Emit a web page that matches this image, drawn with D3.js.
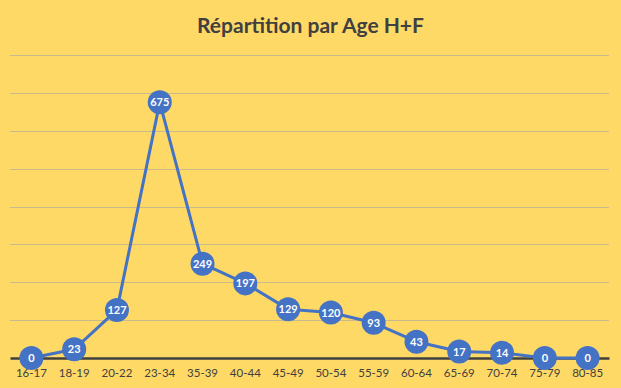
<!DOCTYPE html>
<html>
<head>
<meta charset="utf-8">
<script src="https://cdn.jsdelivr.net/npm/d3@7"></script>
<style>
  html, body { margin: 0; padding: 0; background: #FFD966; }
  svg { display: block; }
</style>
</head>
<body>
<div id="chart"></div>
<script>
'use strict';

const title = 'Répartition par Age H+F';
const ageGroups = ['16-17', '18-19', '20-22', '23-34', '35-39', '40-44', '45-49',
  '50-54', '55-59', '60-64', '65-69', '70-74', '75-79', '80-85'];
const counts = [0, 23, 127, 675, 249, 197, 129, 120, 93, 43, 17, 14, 0, 0];
const yTicks = [0, 100, 200, 300, 400, 500, 600, 700, 800];

const width = 621;
const height = 388;
const margin = { top: 55, right: 12, bottom: 30, left: 10 };

const svg = d3.select('#chart')
  .append('svg')
  .attr('width', width)
  .attr('height', height)
  .style('background', '#FFD966');

const x = d3.scaleBand()
  .domain(ageGroups)
  .range([margin.left, width - margin.right]);

const y = d3.scaleLinear()
  .domain([0, 800])
  .range([height - margin.bottom, margin.top]);

// Title
svg.append('text')
  .attr('x', width / 2)
  .attr('y', 33)
  .attr('text-anchor', 'middle')
  .style('font-family', 'Lato, "Open Sans", sans-serif')
  .style('font-weight', 'bold')
  .style('font-size', '21px')
  .style('fill', '#404040')
  .text(title);

// Horizontal gridlines
svg.append('g')
  .selectAll('line')
  .data(yTicks.slice(1))
  .join('line')
  .attr('x1', margin.left)
  .attr('x2', width - margin.right)
  .attr('y1', (d) => Math.round(y(d)) + 0.5)
  .attr('y2', (d) => Math.round(y(d)) + 0.5)
  .attr('stroke', '#C8B98F')
  .attr('stroke-width', 1);

// X axis
const xAxis = d3.axisBottom(x).tickSize(0).tickPadding(11);
const gx = svg.append('g')
  .attr('transform', `translate(0, ${y(0)})`)
  .call(xAxis);
gx.select('.domain')
  .attr('stroke', '#404040')
  .attr('stroke-width', 2.5);
gx.selectAll('text')
  .style('font-family', 'Lato, "Open Sans", sans-serif')
  .style('font-size', '11.5px')
  .style('fill', '#404040');

const cx = (d, i) => x(ageGroups[i]) + x.bandwidth() / 2;

// Line
const line = d3.line()
  .x((d, i) => cx(d, i))
  .y((d) => y(d));

svg.append('path')
  .datum(counts)
  .attr('fill', 'none')
  .attr('stroke', '#4472C4')
  .attr('stroke-width', 3)
  .attr('stroke-linejoin', 'round')
  .attr('d', line);

// Markers with labels
const points = svg.append('g')
  .selectAll('g')
  .data(counts)
  .join('g')
  .attr('transform', (d, i) => `translate(${cx(d, i)}, ${y(d)})`);

points.append('circle')
  .attr('r', 12)
  .attr('fill', '#4472C4');

points.append('text')
  .attr('text-anchor', 'middle')
  .attr('dy', '0.36em')
  .style('font-family', 'Lato, "Open Sans", sans-serif')
  .style('font-weight', 'bold')
  .style('font-size', '11px')
  .style('fill', '#ffffff')
  .text((d) => d);
</script>
</body>
</html>
